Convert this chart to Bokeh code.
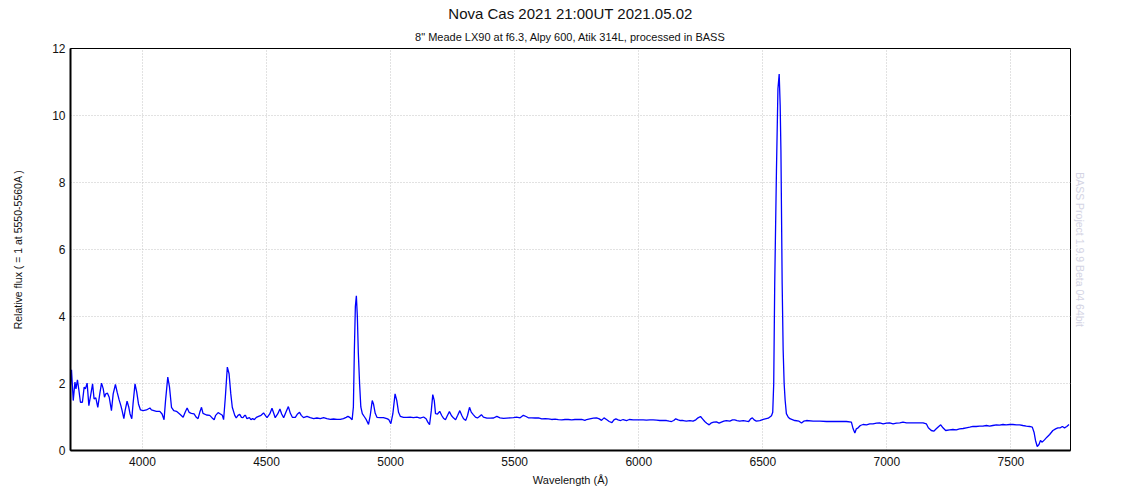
from bokeh.plotting import figure
from bokeh.models import Range1d, FixedTicker, Title, LinearAxis
from bokeh.embed import file_html
from bokeh.resources import INLINE

wavelength = [
    3710, 3714, 3721, 3728, 3732, 3738, 3744, 3750, 3758, 3765, 3770, 3777, 3784, 3791, 3799,
    3805, 3812, 3820, 3828, 3835, 3842, 3847, 3852, 3859, 3866, 3875, 3882, 3891, 3898, 3906,
    3913, 3918, 3925, 3930, 3938, 3945, 3950, 3957, 3962, 3970, 3977, 3984, 3992, 4003, 4016,
    4030, 4036, 4046, 4056, 4070, 4079, 4087, 4093, 4102, 4109, 4117, 4126, 4137, 4150, 4164,
    4172, 4180, 4188, 4197, 4208, 4217, 4224, 4231, 4238, 4244, 4258, 4271, 4280, 4289, 4295,
    4305, 4314, 4322, 4327, 4334, 4342, 4349, 4356, 4362, 4372, 4378, 4385, 4392, 4399, 4405,
    4412, 4415, 4421, 4431, 4437, 4444, 4451, 4459, 4468, 4478, 4488, 4495, 4502, 4513, 4522,
    4529, 4535, 4545, 4554, 4561, 4569, 4578, 4588, 4596, 4604, 4616, 4625, 4633, 4640, 4649,
    4663, 4676, 4690, 4703, 4717, 4730, 4743, 4757, 4770, 4784, 4797, 4810, 4821, 4828, 4837,
    4845, 4850, 4854, 4858, 4862, 4866, 4870, 4875, 4880, 4886, 4895, 4902, 4911, 4918, 4926,
    4931, 4938, 4945, 4958, 4971, 4985, 4993, 5001, 5009, 5018, 5025, 5032, 5039, 5052, 5065,
    5079, 5092, 5106, 5119, 5133, 5143, 5150, 5157, 5164, 5170, 5176, 5181, 5189, 5198, 5206,
    5213, 5221, 5229, 5237, 5245, 5253, 5262, 5270, 5279, 5287, 5294, 5303, 5310, 5318, 5325,
    5334, 5342, 5350, 5358, 5366, 5374, 5388, 5401, 5415, 5428, 5441, 5455, 5468, 5482, 5495,
    5508, 5522, 5535, 5546, 5555, 5569, 5582, 5596, 5609, 5623, 5636, 5649, 5663, 5676, 5690,
    5703, 5716, 5730, 5743, 5757, 5770, 5783, 5790, 5803, 5817, 5830, 5841, 5850, 5860, 5870,
    5881, 5892, 5900, 5908, 5917, 5927, 5937, 5951, 5962, 5978, 5991, 6005, 6018, 6031, 6045,
    6058, 6072, 6085, 6098, 6112, 6123, 6132, 6141, 6149, 6159, 6168, 6179, 6192, 6206, 6219,
    6230, 6239, 6249, 6257, 6266, 6274, 6284, 6293, 6302, 6313, 6324, 6333, 6343, 6353, 6367,
    6378, 6387, 6396, 6407, 6421, 6434, 6443, 6451, 6458, 6465, 6474, 6488, 6502, 6522, 6535,
    6540, 6544, 6548, 6555, 6561, 6566, 6570, 6573, 6578, 6582, 6586, 6590, 6595, 6602, 6609,
    6629, 6646, 6656, 6665, 6676, 6703, 6730, 6757, 6783, 6810, 6837, 6857, 6864, 6871, 6877,
    6884, 6893, 6904, 6918, 6931, 6944, 6958, 6971, 6985, 6998, 7011, 7025, 7038, 7052, 7065,
    7079, 7092, 7106, 7119, 7132, 7146, 7159, 7167, 7179, 7189, 7199, 7209, 7217, 7226, 7237,
    7253, 7266, 7280, 7293, 7307, 7320, 7334, 7347, 7360, 7374, 7387, 7401, 7414, 7427, 7441,
    7454, 7468, 7481, 7495, 7508, 7522, 7535, 7548, 7562, 7575, 7586, 7593, 7599, 7606, 7613,
    7619, 7626, 7635, 7645, 7656, 7669, 7680, 7689, 7699, 7707, 7716, 7725, 7734,
]

flux = [
    1.94, 2.41, 1.49, 2.04, 1.84, 2.11, 1.79, 1.44, 1.44, 1.89, 1.84, 2.01, 1.34, 1.64, 1.99,
    1.54, 1.57, 1.29, 1.69, 2.01, 1.84, 1.59, 1.69, 1.71, 1.59, 1.19, 1.69, 1.97, 1.74, 1.51,
    1.34, 1.19, 0.95, 1.19, 1.47, 1.29, 1.09, 0.95, 1.39, 1.99, 1.74, 1.39, 1.21, 1.19, 1.21,
    1.27, 1.21, 1.19, 1.17, 1.17, 1.09, 0.92, 1.49, 2.19, 1.89, 1.29, 1.19, 1.17, 1.09, 0.99,
    1.14, 1.27, 1.14, 1.11, 1.09, 0.99, 0.95, 1.14, 1.29, 1.11, 1.06, 1.05, 0.98, 0.92, 1.05,
    1.13, 1.09, 1.05, 0.92, 1.59, 2.49, 2.29, 1.69, 1.29, 1.05, 0.97, 1.05, 1.08, 0.99, 0.98,
    1.05, 1.05, 0.95, 0.98, 0.92, 0.95, 0.92, 0.99, 1.02, 1.05, 1.12, 1.05, 0.98, 1.09, 1.26,
    1.11, 0.98, 1.09, 1.24, 1.09, 0.98, 1.14, 1.31, 1.11, 0.99, 0.99, 1.09, 1.14, 1.05, 0.98,
    1.02, 0.98, 0.95, 0.97, 0.95, 0.98, 0.95, 0.93, 0.94, 0.93, 0.93, 0.95, 0.99, 1.02, 0.98,
    0.92, 1.30, 3.00, 4.30, 4.62, 4.00, 2.90, 2.00, 1.30, 1.10, 1.00, 0.92, 0.78, 1.05, 1.49,
    1.39, 1.11, 0.99, 0.98, 0.98, 0.95, 0.92, 0.80, 1.09, 1.69, 1.49, 1.14, 1.02, 0.99, 0.99,
    0.995, 0.98, 0.995, 0.966, 1.00, 0.946, 0.846, 0.77, 1.19, 1.67, 1.49, 1.10, 1.09, 1.17, 1.045,
    0.966, 0.92, 1.045, 1.16, 1.045, 0.976, 0.92, 1.045, 1.19, 1.045, 0.946, 0.90, 1.045, 1.29, 1.145,
    1.065, 0.995, 0.97, 1.015, 1.07, 0.995, 0.966, 0.966, 0.97, 1.02, 0.976, 0.956, 0.966, 0.976, 0.98,
    0.995, 0.976, 1.05, 1.015, 0.976, 0.976, 0.97, 0.976, 0.946, 0.95, 0.946, 0.926, 0.936, 0.92, 0.916,
    0.926, 0.926, 0.916, 0.926, 0.93, 0.926, 0.90, 0.925, 0.945, 0.965, 0.975, 0.945, 0.90, 0.975, 0.925,
    0.866, 0.83, 0.915, 0.945, 0.915, 0.895, 0.925, 0.895, 0.925, 0.915, 0.915, 0.915, 0.915, 0.905, 0.915,
    0.915, 0.905, 0.895, 0.895, 0.895, 0.876, 0.865, 0.895, 0.945, 0.915, 0.895, 0.895, 0.876, 0.895, 0.875,
    0.915, 0.975, 1.015, 0.945, 0.866, 0.816, 0.766, 0.826, 0.846, 0.856, 0.816, 0.846, 0.876, 0.895, 0.876,
    0.915, 0.915, 0.895, 0.876, 0.895, 0.875, 0.866, 0.945, 0.975, 0.915, 0.876, 0.895, 0.93, 0.965, 1.04,
    1.14, 2.00, 4.98, 8.36, 10.80, 11.24, 10.30, 8.96, 4.98, 3.00, 2.00, 1.50, 1.10, 1.00, 0.95,
    0.895, 0.876, 0.82, 0.876, 0.895, 0.876, 0.875, 0.866, 0.866, 0.866, 0.866, 0.846, 0.647, 0.52, 0.647,
    0.677, 0.746, 0.776, 0.766, 0.796, 0.796, 0.816, 0.826, 0.796, 0.816, 0.826, 0.796, 0.816, 0.826, 0.846,
    0.826, 0.826, 0.826, 0.826, 0.826, 0.826, 0.796, 0.677, 0.597, 0.577, 0.647, 0.717, 0.766, 0.677, 0.597,
    0.617, 0.627, 0.617, 0.647, 0.657, 0.677, 0.697, 0.717, 0.717, 0.726, 0.726, 0.746, 0.726, 0.746, 0.766,
    0.756, 0.776, 0.766, 0.776, 0.776, 0.766, 0.766, 0.746, 0.726, 0.717, 0.697, 0.547, 0.299, 0.12, 0.179,
    0.299, 0.249, 0.318, 0.398, 0.478, 0.597, 0.647, 0.677, 0.677, 0.717, 0.677, 0.717, 0.776,
]

x_ticks = [4000, 4500, 5000, 5500, 6000, 6500, 7000, 7500]
y_ticks = [0, 2, 4, 6, 8, 10, 12]

title_text = "Nova Cas 2021 21:00UT 2021.05.02"
subtitle_text = "8\" Meade LX90 at f6.3, Alpy 600, Atik 314L, processed in BASS"
x_label = "Wavelength (\u00c5)"
y_label = "Relative flux ( = 1 at 5550-5560A )"
watermark = "BASS Project 1.9.9 Beta 04 64bit"

FONT = "Liberation Sans"

p = figure(output_backend="svg", toolbar_location=None,
           x_range=Range1d(3710, 7740), y_range=Range1d(0, 12),
           min_border_left=70, min_border_right=48, min_border_top=48, min_border_bottom=42)
p.frame_width = 1000
p.frame_height = 402
p.background_fill_color = "white"
p.border_fill_color = "white"
p.outline_line_color = "black"
p.outline_line_width = 1

sub = Title(text=subtitle_text, align="center", text_font=FONT, text_font_size="11px",
            text_font_style="normal", text_color="#111111", standoff=12)
p.add_layout(sub, "above")
ttl = Title(text=title_text, align="center", text_font=FONT, text_font_size="15px",
            text_font_style="normal", text_color="#111111", standoff=2)
p.add_layout(ttl, "above")

p.line(wavelength, flux, line_color="#0000ff", line_width=1.3)

for ax in (p.xaxis[0], p.yaxis[0]):
    ax.axis_line_color = "black"
    ax.axis_line_width = 2
    ax.major_tick_line_color = None
    ax.minor_tick_line_color = None
    ax.major_tick_out = 0
    ax.major_tick_in = 0
    ax.minor_tick_out = 0
    ax.minor_tick_in = 0
    ax.major_label_text_font = FONT
    ax.major_label_text_font_size = "12px"
    ax.major_label_text_color = "#111111"
    ax.axis_label_text_font = FONT
    ax.axis_label_text_font_style = "normal"
    ax.axis_label_text_color = "#111111"

p.xaxis[0].ticker = FixedTicker(ticks=x_ticks)
p.yaxis[0].ticker = FixedTicker(ticks=y_ticks)
p.xaxis[0].axis_label = x_label
p.yaxis[0].axis_label = y_label
p.xaxis[0].axis_label_text_font_size = "11px"
p.yaxis[0].axis_label_text_font_size = "10.5px"
p.xaxis[0].major_label_standoff = 6
p.yaxis[0].major_label_standoff = 5
p.xaxis[0].axis_label_standoff = 5
p.yaxis[0].axis_label_standoff = 25

right = LinearAxis(axis_label=watermark, ticker=FixedTicker(ticks=[]))
right.axis_line_color = None
right.major_tick_line_color = None
right.minor_tick_line_color = None
right.major_label_text_font_size = "0px"
right.axis_label_text_font = FONT
right.axis_label_text_font_size = "10.5px"
right.axis_label_text_font_style = "normal"
right.axis_label_text_color = "#d4d4e4"
right.axis_label_standoff = 3
p.add_layout(right, "right")

p.xgrid.ticker = FixedTicker(ticks=x_ticks)
p.ygrid.ticker = FixedTicker(ticks=y_ticks)
p.grid.grid_line_color = "#c4c4c4"
p.grid.grid_line_dash = "1 2"
p.grid.grid_line_width = 1

open("out.html", "w").write(file_html(p, INLINE))
